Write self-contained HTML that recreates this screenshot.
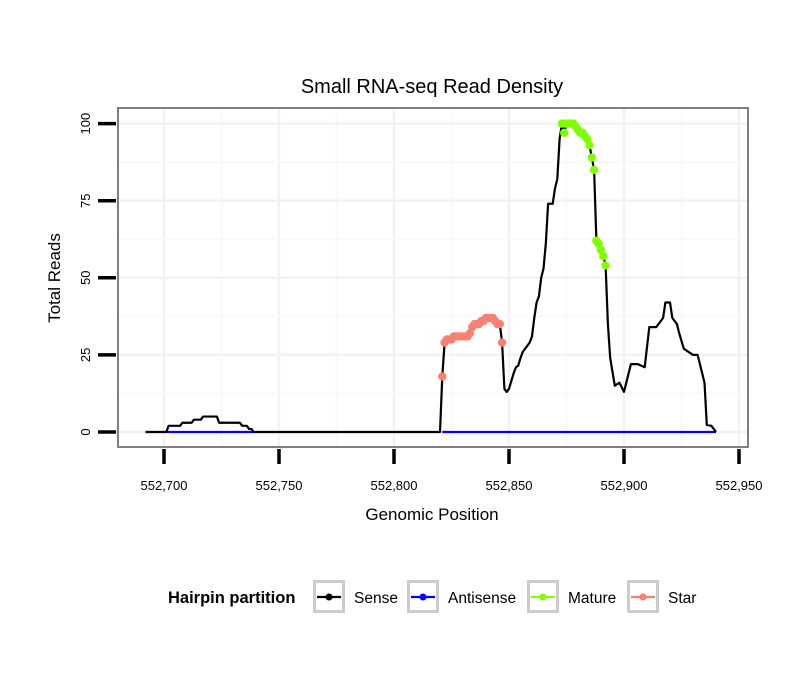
<!DOCTYPE html>
<html><head><meta charset="utf-8"><style>
body{margin:0;background:#fff;}
svg text{font-family:"Liberation Sans",sans-serif;}
</style></head><body>
<svg id="chart" width="810" height="690" viewBox="0 0 810 690">
<text x="432" y="93" font-size="20" text-anchor="middle">Small RNA-seq Read Density</text>
<rect x="118" y="108" width="630" height="339" fill="#fff"/>
<g id="grid"></g>
<g id="series"></g>
<rect x="118" y="108" width="630" height="339" fill="none" stroke="#7f7f7f" stroke-width="2"/>
<g id="axes"></g>
<text x="432" y="520" font-size="17" text-anchor="middle">Genomic Position</text>
<text x="0" y="0" font-size="17" text-anchor="middle" transform="translate(60,278) rotate(-90)">Total Reads</text>
<g>
<text x="168" y="603" font-size="16.5" font-weight="bold">Hairpin partition</text>
<g id="legend-keys"></g>
</g>
</svg>
<script>
const xTicks=[552700,552750,552800,552850,552900,552950];
const yTicks=[0,25,50,75,100];
const sensePos=[552692,552701,552702,552707,552708,552712,552713,552716,552717,552723,552724,552733,552734,552736,552737,552738,552739,552820,552821,552822,552823,552824,552825,552826,552827,552828,552829,552830,552831,552832,552833,552834,552835,552836,552837,552838,552839,552840,552841,552842,552843,552844,552845,552846,552847,552848,552849,552850,552852,552853,552854,552855,552856,552857,552858,552859,552860,552861,552862,552863,552864,552865,552866,552867,552869,552870,552871,552872,552873,552874,552875,552876,552877,552878,552879,552880,552881,552882,552883,552884,552885,552886,552887,552888,552889,552890,552891,552892,552893,552894,552896,552898,552900,552902,552903,552906,552909,552911,552914,552916,552917,552918,552920,552921,552923,552924,552926,552928,552930,552932,552934,552935,552936,552938,552940];
const senseVal=[0,0,2,2,3,3,4,4,5,5,3,3,2,2,1,1,0,0,18,29,30,30,30,31,31,31,31,31,31,31,32,34,35,35,35,36,36,37,37,37,37,36,35,35,29,14,13,14,19,21,21.5,24,26,27,28,29,31,37,42,44,50,53,61,74,74,79,82,95,100,97,100,100,100,100,99,98,97,97,96,95,93,89,85,62,61,59,57,54,35,24,15,16,13,19,22,22,21,34,34,36,37,42,42,37,35,32,27,26,25,25,19,16,2.3,2,0];
const antisenseRanges=[[552701,552739],[552821,552940]];
const starPos=[552821,552822,552823,552824,552825,552826,552827,552828,552829,552830,552831,552832,552833,552834,552835,552836,552837,552838,552839,552840,552841,552842,552843,552844,552845,552846,552847];
const starVal=[18,29,30,30,30,31,31,31,31,31,31,31,32,34,35,35,35,36,36,37,37,37,37,36,35,35,29];
const maturePos=[552873,552874,552875,552876,552877,552878,552879,552880,552881,552882,552883,552884,552885,552886,552887,552888,552889,552890,552891,552892];
const matureVal=[100,97,100,100,100,100,99,98,97,97,96,95,93,89,85,62,61,59,57,54];
const legendLabels=["Sense","Antisense","Mature","Star"];
const legendColors=["#000000","#0000ff","#7fff00","#fa8072"];

const NS="http://www.w3.org/2000/svg";
const X=v=>164+(v-552700)*2.3;
const Y=v=>432-v*3.084;
function mk(tag,attrs,parent){const e=document.createElementNS(NS,tag);for(const k in attrs)e.setAttribute(k,attrs[k]);parent.appendChild(e);return e;}
const grid=document.getElementById('grid'),axes=document.getElementById('axes'),ser=document.getElementById('series');
for(let i=0;i<xTicks.length;i++){
  const t=xTicks[i];
  if(X(t)>118&&X(t)<748){const g=mk('line',{x1:X(t),x2:X(t),y1:108,y2:447,stroke:'#f2f2f2','stroke-width':2.5},grid);}
  const m=t-25;
  if(X(m)>118&&X(m)<748){const g=mk('line',{x1:X(m),x2:X(m),y1:108,y2:447,stroke:'#f8f8f8','stroke-width':1.5},grid);}
  const tk=mk('line',{x1:X(t),x2:X(t),y1:449,y2:464,stroke:'#000','stroke-width':3.5},axes);
  
  const lb=mk('text',{x:X(t),y:490,'font-size':13,'text-anchor':'middle'},axes);
  lb.textContent=t.toLocaleString('en-US');
  
}
for(let i=0;i<yTicks.length;i++){
  const t=yTicks[i];
  const g=mk('line',{x1:118,x2:748,y1:Y(t),y2:Y(t),stroke:'#f2f2f2','stroke-width':2.5},grid);
  
  if(i>0){const g2=mk('line',{x1:118,x2:748,y1:Y(t-12.5),y2:Y(t-12.5),stroke:'#f8f8f8','stroke-width':1.5},grid);}
  const tk=mk('line',{x1:98,x2:116,y1:Y(t),y2:Y(t),stroke:'#000','stroke-width':3.5},axes);
  
  const lb=mk('text',{x:0,y:0,'font-size':13,'text-anchor':'middle',transform:`translate(90,${Y(t)}) rotate(-90)`},axes);
  lb.textContent=t;
  
}
antisenseRanges.forEach(r=>{
  const l=mk('line',{x1:X(r[0]),x2:X(r[1]),y1:Y(0),y2:Y(0),stroke:'#0000ff','stroke-width':2.2},ser);
  
});
const sp=mk('polyline',{points:sensePos.map((p,i)=>X(p)+','+Y(senseVal[i])).join(' '),fill:'none',stroke:'#000','stroke-width':2.2,'stroke-linejoin':'round'},ser);

starPos.forEach((p,i)=>{
  const c=mk('circle',{cx:X(p),cy:Y(starVal[i]),r:4.2,fill:'#fa8072'},ser);
  
});
maturePos.forEach((p,i)=>{
  const c=mk('circle',{cx:X(p),cy:Y(matureVal[i]),r:4.2,fill:'#7fff00'},ser);
  
});
const lk=document.getElementById('legend-keys');
const boxX=[313,407,527,627];
legendLabels.forEach((lab,i)=>{
  const g=mk('g',{},lk);
  
  mk('rect',{x:boxX[i]+1.5,y:581.5,width:29,height:30,fill:'#fff',stroke:'#cccccc','stroke-width':3},g);
  mk('line',{x1:boxX[i]+4,x2:boxX[i]+28,y1:597,y2:597,stroke:legendColors[i],'stroke-width':2.2},g);
  mk('circle',{cx:boxX[i]+16,cy:597,r:3.5,fill:legendColors[i]},g);
  const t=mk('text',{x:boxX[i]+41,y:603,'font-size':15.5},g);
  t.textContent=lab;
});
</script>
</body></html>
